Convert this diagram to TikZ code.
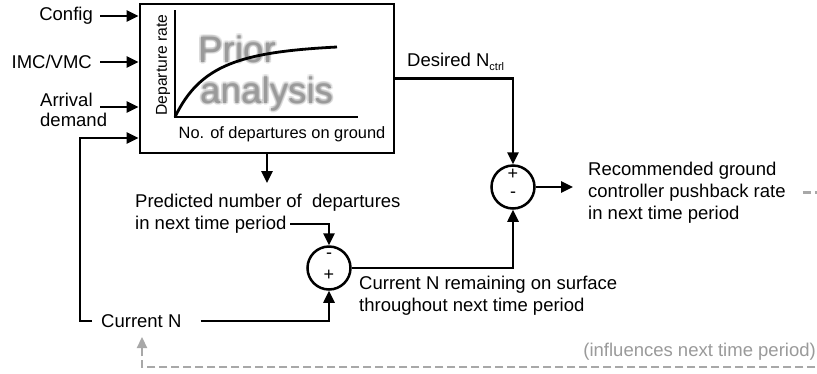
\documentclass[tikz,border=0pt]{standalone}
\usepackage{fontspec}
\setmainfont{Liberation Sans}
\usetikzlibrary{arrows.meta}
\definecolor{dgray}{HTML}{9A9A9A}
\definecolor{lgray}{HTML}{A8A8A8}
\newcommand{\glowword}[1]{%
  \pgfsetfillopacity{0.07}%
  \rlap{\kern2pt\textcolor{black}{#1}}%
  \rlap{\kern-2pt\textcolor{black}{#1}}%
  \rlap{\raisebox{2pt}{\textcolor{black}{#1}}}%
  \rlap{\raisebox{-2pt}{\textcolor{black}{#1}}}%
  \rlap{\kern1.5pt\raisebox{1.5pt}{\textcolor{black}{#1}}}%
  \rlap{\kern-1.5pt\raisebox{1.5pt}{\textcolor{black}{#1}}}%
  \rlap{\kern1.5pt\raisebox{-1.5pt}{\textcolor{black}{#1}}}%
  \rlap{\kern-1.5pt\raisebox{-1.5pt}{\textcolor{black}{#1}}}%
  \pgfsetfillopacity{1}%
  \textcolor{dgray}{#1}}
\begin{document}
\begin{tikzpicture}[x=1pt,y=-1pt,
  every node/.style={inner sep=0pt, font=\fontsize{18.5}{22}\selectfont},
  conn/.style={line width=2.5pt, -{Triangle[length=12pt,width=11pt]}},
  plain/.style={line width=2.5pt},
  gconn/.style={line width=2.3pt, draw=lgray, dash pattern=on 8pt off 4pt, -{Triangle[length=11pt,width=10pt]}},
  sumnode/.style={circle, draw, line width=2.5pt, minimum size=43pt},
  bigtxt/.style={anchor=base west, font=\fontsize{36.8}{40}\selectfont},
  pm/.style={font=\fontsize{18}{18}\selectfont}
]
\useasboundingbox (0,0) rectangle (817,373);
\fill[white] (0,0) rectangle (817,373);

% main box
\node[draw, line width=2.8pt, minimum width=254pt, minimum height=149pt] (box) at (267,78.5) {};

% inputs
\node[anchor=east] (config) at (93,16) {Config};
\node[anchor=east] (imc) at (92,62) {IMC/VMC};
\node[anchor=west, align=left, font=\fontsize{18.5}{20}\selectfont] (arrival) at (40,110) {Arrival\\demand};
\coordinate (arrin) at (100,107);
\coordinate (fbrow) at (0,138);
\draw[conn] ([xshift=7pt]config.east) -- (config.east -| box.west);
\draw[conn] ([xshift=8pt]imc.east) -- (imc.east -| box.west);
\draw[conn] (arrin) -- (arrin -| box.west);

% graph inside box
\node[bigtxt] (prior) at (198,62) {\glowword{Prior}};
\node[bigtxt] (analysis) at (200,103) {\glowword{analysis}};
\draw[plain] (175,10) -- (175,117) -- (358,117);
\draw[line width=2.8pt] (175,117) .. controls (200,65) and (240,52) .. (337,47);
\node[rotate=90, font=\fontsize{15.7}{18}\selectfont] (ylab) at (163,65) {Departure rate};
\node[font=\fontsize{16.4}{19}\selectfont] (xlab) at (282,134) {No. of departures on ground};

% prediction path
\coordinate (predtip) at (267,183);
\draw[conn] (box.south) -- (predtip);
\node[anchor=west, align=left] (pred) at (135,214) {Predicted number of\ \ departures\\in next time period};

% summing junctions
\node[sumnode] (sum1) at (513,187) {};
\node[sumnode] (sum2) at (329,268) {};
\node[pm] (s1p) at ([yshift=13pt]sum1.center) {+};
\node[pm] (s1m) at ([yshift=-8pt]sum1.center) {-};
\node[pm] (s2m) at ([yshift=12pt]sum2.center) {-};
\node[pm] (s2p) at ([yshift=-7pt]sum2.center) {+};

% current N
\node[anchor=west] (curN) at (101,321) {Current N};
\draw[conn] ([xshift=-9pt]curN.west) -- ++(-12,0) |- (box.west |- fbrow);

\coordinate (predout) at (290,224);
\draw[conn] (predout) -| (sum2.north);
\draw[conn] ([xshift=19pt]curN.east) -| (sum2.south);
\draw[conn] (sum2.east) -| (sum1.south);
\draw[conn] (box.east) -| (sum1.north);
\node[anchor=west] (desired) at (407,62) {Desired N{\fontsize{11}{11}\selectfont\raisebox{-4pt}{ctrl}}};

\coordinate (rectip) at (573,187);
\draw[conn] (sum1.east) -- (rectip);
\node[anchor=west, align=left] (rec) at (588,192.5) {Recommended ground\\controller pushback rate\\in next time period};
\node[anchor=west, align=left] (remain) at (359,296) {Current N remaining on surface\\throughout next time period};
\node[anchor=east, text=dgray] (infl) at (816,352) {(influences next time period)};

% feedback (gray dashed)
\coordinate (fbtip) at (142,337);
\coordinate (fbbot) at (0,367);
\draw[gconn] ([xshift=17pt]rec.east) -- ++(45,0) |- (fbtip |- fbbot) -- (fbtip);
\end{tikzpicture}
\end{document}
